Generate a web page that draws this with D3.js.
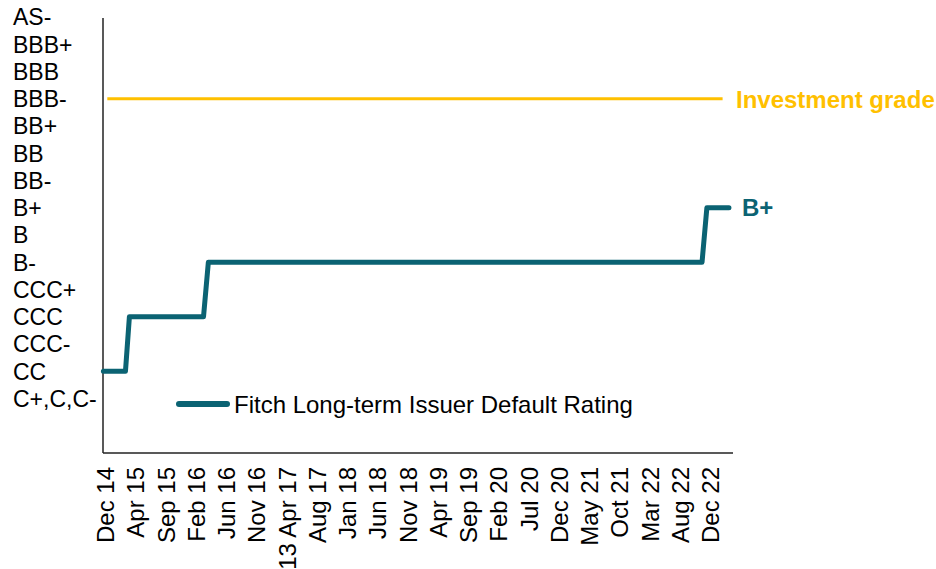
<!DOCTYPE html>
<html>
<head>
<meta charset="utf-8">
<script src="https://cdn.jsdelivr.net/npm/d3@7"></script>
<style>
  body { margin: 0; background: #fff; }
  svg { font-family: Arial, "Liberation Sans", sans-serif; }
</style>
</head>
<body>
<svg id="chart" width="936" height="569"></svg>
<script>
// rating scale, lowest first
const ratings = ['C+,C,C-', 'CC', 'CCC-', 'CCC', 'CCC+', 'B-', 'B', 'B+', 'BB-', 'BB', 'BB+', 'BBB-', 'BBB', 'BBB+', 'AS-'];

// x-axis category labels
const periods = ['Dec 14', 'Apr 15', 'Sep 15', 'Feb 16', 'Jun 16', 'Nov 16', '13 Apr 17', 'Aug 17', 'Jan 18',
  'Jun 18', 'Nov 18', 'Apr 19', 'Sep 19', 'Feb 20', 'Jul 20', 'Dec 20', 'May 21', 'Oct 21', 'Mar 22',
  'Aug 22', 'Dec 22'];

// rating history, position in label units
const ratingPos = [-0.07, 0.66, 0.79, 3.24, 3.40, 19.72, 19.88, 20.61];
const ratingVal = ['CC', 'CC', 'CCC', 'CCC', 'B-', 'B-', 'B+', 'B+'];

const gradeLevel = 'BBB-';
const gradeSpan = [0.06, 20.4];

const teal = '#0b6373', gold = '#FFC000';

const svg = d3.select('#chart');

const x = d3.scaleLinear().domain([0, periods.length - 1]).range([105.5, 710.5]);
const level = r => ratings.indexOf(r) + 1;
const y = d3.scaleLinear().domain([-1, ratings.length]).range([453, 17]);

// axes
const yAxis = d3.axisLeft(y)
  .tickValues(d3.range(1, ratings.length + 1))
  .tickSize(0)
  .tickFormat('');
svg.append('g')
  .attr('transform', 'translate(103,0)')
  .call(yAxis)
  .call(g => g.select('.domain').attr('stroke', '#222').attr('stroke-width', 1.5).attr('d', 'M0,18V453'));

svg.append('line')
  .attr('x1', 103).attr('x2', 733).attr('y1', 453).attr('y2', 453)
  .attr('stroke', '#222').attr('stroke-width', 1.5);

// y labels
svg.append('g').selectAll('text')
  .data(ratings)
  .join('text')
  .attr('x', 13)
  .attr('y', d => y(level(d)))
  .attr('dy', '0.36em')
  .attr('font-size', 23)
  .attr('fill', '#000')
  .text(d => d);

// x labels
svg.append('g').selectAll('text')
  .data(periods)
  .join('text')
  .attr('transform', (d, i) => 'translate(' + x(i) + ',467) rotate(-90)')
  .attr('text-anchor', 'end')
  .attr('dy', '0.36em')
  .attr('font-size', 24)
  .attr('fill', '#000')
  .text(d => d);

// investment grade line
svg.append('line')
  .attr('x1', x(gradeSpan[0])).attr('x2', x(gradeSpan[1]))
  .attr('y1', y(level(gradeLevel))).attr('y2', y(level(gradeLevel)))
  .attr('stroke', gold).attr('stroke-width', 3);

svg.append('text')
  .attr('x', 736)
  .attr('y', y(level(gradeLevel)) + 1)
  .attr('dy', '0.36em')
  .attr('font-size', 24)
  .attr('font-weight', 'bold')
  .attr('fill', gold)
  .text('Investment grade');

// rating line
const line = d3.line()
  .x(d => x(d[0]))
  .y(d => y(level(d[1])));

svg.append('path')
  .datum(d3.zip(ratingPos, ratingVal))
  .attr('d', line)
  .attr('fill', 'none')
  .attr('stroke', teal)
  .attr('stroke-width', 5)
  .attr('stroke-linejoin', 'round')
  .attr('stroke-linecap', 'round');

const last = ratingVal[ratingVal.length - 1];
svg.append('text')
  .attr('x', 742)
  .attr('y', y(level(last)))
  .attr('dy', '0.36em')
  .attr('font-size', 24)
  .attr('font-weight', 'bold')
  .attr('fill', teal)
  .text(last);

// legend
const legend = svg.append('g').attr('transform', 'translate(176,404)');
legend.append('line')
  .attr('x1', 3).attr('x2', 51)
  .attr('stroke', teal).attr('stroke-width', 6).attr('stroke-linecap', 'round');
legend.append('text')
  .attr('x', 58)
  .attr('dy', '0.36em')
  .attr('font-size', 24)
  .attr('fill', '#000')
  .text('Fitch Long-term Issuer Default Rating');
</script>
</body>
</html>
